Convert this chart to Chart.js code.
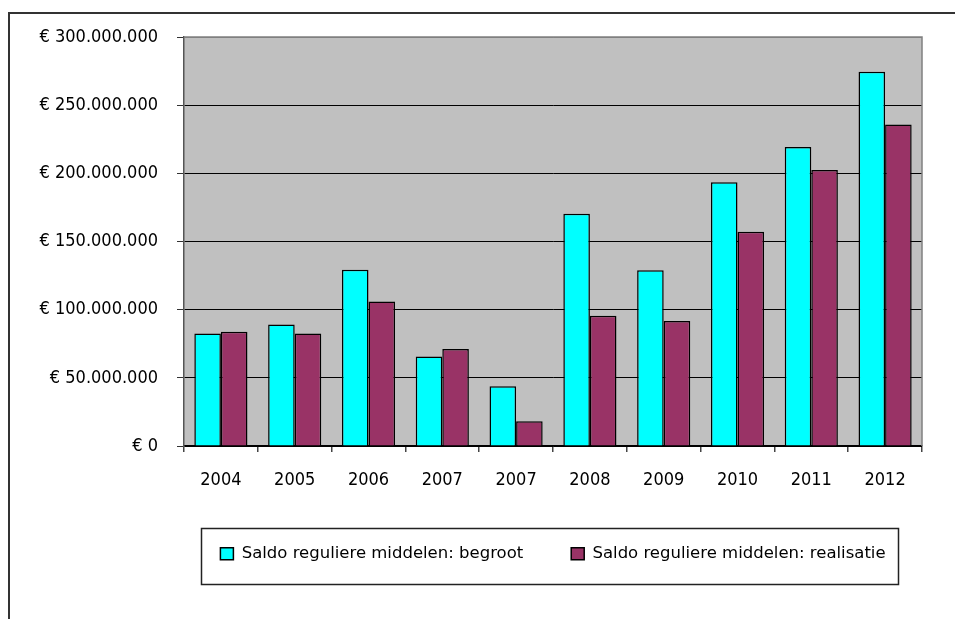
<!DOCTYPE html>
<html>
<head>
<meta charset="utf-8">
<script src="https://cdn.jsdelivr.net/npm/chart.js@4"></script>
<style>
  html, body { margin: 0; padding: 0; background: #fff; }
  body { width: 955px; height: 619px; position: relative; overflow: hidden; }
  .frame { position: absolute; left: 8px; top: 12px; width: 1200px; height: 900px;
           border-left: 2px solid #333; border-top: 2px solid #333; }
  #chart { position: absolute; left: 0; top: 0; }
</style>
</head>
<body>
<div class="frame"></div>
<canvas id="chart" width="955" height="619"></canvas>
<script>
// Years on the category axis (2007 appears twice in the source table)
const categories = ['2004', '2005', '2006', '2007', '2007', '2008', '2009', '2010', '2011', '2012'];

// Saldo reguliere middelen, in euro
const begroot = [82600000, 89200000, 129200000, 65700000, 43900000, 170400000, 128900000, 193400000, 219400000, 274500000];
const realisatie = [83800000, 82600000, 105900000, 71100000, 18100000, 95600000, 91700000, 157100000, 202500000, 235800000];

const seriesNames = ['Saldo reguliere middelen: begroot', 'Saldo reguliere middelen: realisatie'];

// Y axis range and tick step
const yMax = 300000000;
const yStep = 50000000;

const tickFont = { family: "'DejaVu Sans Condensed', 'DejaVu Sans', sans-serif", size: 18 };
const legendFont = { family: "'DejaVu Sans', sans-serif", size: 16.5 };

function euro(v) {
  return '\u20AC ' + String(Math.round(v)).replace(/\B(?=(\d{3})+(?!\d))/g, '.');
}

// Keep both legend entries on one row even with wide spacing between them
const LEGEND_SPREAD = 60;
const oneRowLegend = {
  id: 'oneRowLegend',
  beforeLayout(chart) {
    const lg = chart.legend;
    if (!lg || lg._oneRow) return;
    const fit = lg.fit;
    lg.fit = function () {
      const mw = this.maxWidth;
      this.maxWidth = mw + 2 * LEGEND_SPREAD;
      fit.call(this);
      this.maxWidth = mw;
      this.width = Math.min(this.width, mw);
    };
    lg._oneRow = true;
  },
  afterLayout(chart) {
    const lg = chart.legend;
    if (!lg) return;
    lg.left -= LEGEND_SPREAD;
    lg.right += LEGEND_SPREAD;
    lg.width = lg.right - lg.left;
  }
};

// Grey plot background, grey top/right frame and a box around the legend
const plotDecor = {
  id: 'plotDecor',
  beforeDraw(chart) {
    const { ctx, chartArea: a } = chart;
    ctx.save();
    ctx.fillStyle = '#C0C0C0';
    ctx.fillRect(a.left, a.top, a.right - a.left, a.bottom - a.top);
    ctx.restore();
  },
  beforeDatasetsDraw(chart) {
    const { ctx, chartArea: a } = chart;
    ctx.save();
    ctx.strokeStyle = '#808080';
    ctx.lineWidth = 1.5;
    ctx.beginPath();
    ctx.moveTo(a.left, a.top);
    ctx.lineTo(a.right, a.top);
    ctx.lineTo(a.right, a.bottom);
    ctx.stroke();
    ctx.restore();
  },
  afterDraw(chart) {
    const lg = chart.legend;
    if (!lg || !lg.legendHitBoxes || !lg.legendHitBoxes.length) return;
    const boxes = lg.legendHitBoxes;
    const first = boxes[0], last = boxes[boxes.length - 1];
    const cy = first.top + first.height / 2;
    const left = first.left - 19;
    const right = last.left + last.width + 13;
    const top = cy - 26;
    const bottom = cy + 30;
    const ctx = chart.ctx;
    ctx.save();
    ctx.strokeStyle = '#222';
    ctx.lineWidth = 1.5;
    ctx.strokeRect(Math.round(left) + 0.5, Math.round(top) + 0.5, Math.round(right - left), Math.round(bottom - top));
    ctx.restore();
  }
};

new Chart(document.getElementById('chart'), {
  type: 'bar',
  data: {
    labels: categories,
    datasets: [
      {
        label: seriesNames[0],
        data: begroot,
        backgroundColor: '#00FFFF',
        borderColor: '#000',
        borderWidth: 1.5,
        categoryPercentage: 0.72,
        barPercentage: 1
      },
      {
        label: seriesNames[1],
        data: realisatie,
        backgroundColor: '#993366',
        borderColor: '#000',
        borderWidth: 1.5,
        categoryPercentage: 0.72,
        barPercentage: 1
      }
    ]
  },
  options: {
    responsive: false,
    devicePixelRatio: 1,
    animation: false,
    layout: { padding: { top: 37, left: 0, right: 33, bottom: 47 } },
    plugins: {
      tooltip: { enabled: false },
      legend: {
        position: 'bottom',
        fullSize: false,
        labels: {
          color: '#000',
          font: legendFont,
          boxWidth: 13,
          boxHeight: 12,
          padding: 48
        }
      }
    },
    scales: {
      x: {
        grid: {
          offset: true,
          drawOnChartArea: false,
          drawTicks: true,
          tickLength: 6,
          tickColor: '#444',
          lineWidth: 1.5
        },
        border: { display: true, color: '#000', width: 1.5 },
        ticks: { color: '#000', font: tickFont, padding: 18, maxRotation: 0, autoSkip: false },
        afterFit(scale) { scale.height = 51.5; }
      },
      y: {
        min: 0,
        max: yMax,
        grid: {
          color: (c) => (c.tick && c.tick.value === yMax ? '#808080' : '#000'),
          lineWidth: 1,
          tickLength: 7,
          tickColor: '#333'
        },
        border: { display: true, color: '#555', width: 1.5 },
        ticks: {
          stepSize: yStep,
          color: '#000',
          font: tickFont,
          padding: 19,
          callback: (v) => euro(v)
        },
        afterFit(scale) { scale.width = 184; }
      }
    }
  },
  plugins: [oneRowLegend, plotDecor]
});
</script>
</body>
</html>
